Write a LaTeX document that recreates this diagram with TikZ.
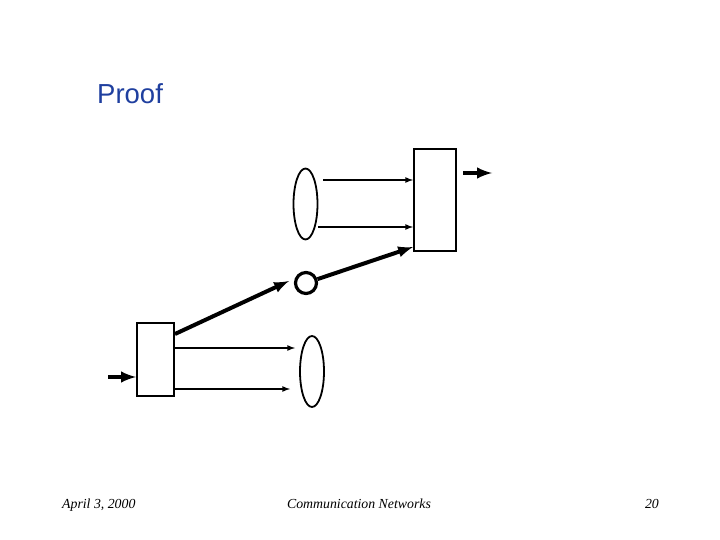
\documentclass[tikz,border=0pt]{standalone}
\usepackage{fontspec}
\setmainfont{Liberation Serif}
\setsansfont{Liberation Sans}
\usetikzlibrary{arrows,shapes.geometric}
\definecolor{titleblue}{RGB}{31,63,159}
\tikzset{
  >=latex,
  {title/.style} ={inner sep=0, anchor=base west, text=titleblue,
                  font=\sffamily\fontsize{27.5}{30}\selectfont},
  {footer/.style} ={inner sep=0, font=\itshape\fontsize{13.8}{16}\selectfont},
  {box/.style} ={draw, line width=2pt, rectangle, fill=white},
  {source/.style} ={draw, line width=1.8pt, ellipse,
                   minimum width=24pt, minimum height=71pt, inner sep=0},
  {relay/.style} ={draw, line width=3.2pt, circle, minimum size=21pt, inner sep=0},
  {thin arrow/.style} ={->, line width=1.6pt},
  {thick arrow/.style} ={->, line width=4pt},
}
\begin{document}
\begin{tikzpicture}[x=1pt,y=-1pt]
\useasboundingbox (0,0) rectangle (720,540);

\node[title] (proof) at (97,104) {Proof};

% the two boxes
\node[box, minimum width=42pt, minimum height=102pt] (rbox) at (435,200) {};
\node[box, minimum width=37pt, minimum height=73pt] (lbox) at (155.5,359.5) {};

% sources and the relay
\node[source] (uell) at (305.5,204) {};
\node[source] (lell) at (312,371.5) {};
\node[relay] (circ) at (306,283) {};

\coordinate (in) at (108,377);
\coordinate (out) at (492,173);
\coordinate (u1) at (323,180);
\coordinate (u2) at (318,227);
\coordinate (l1) at (295,348);
\coordinate (l2) at (290,389);
\coordinate (cin) at (289,281);

\draw[thin arrow] (u1) -- (u1 -| rbox.west);
\draw[thin arrow] (u2) -- (u2 -| rbox.west);
\draw[thin arrow] (lbox.east |- l1) -- (l1);
\draw[thin arrow] (lbox.east |- l2) -- (l2);

\draw[thick arrow] (in) -- (in -| lbox.west);
\draw[thick arrow] ([xshift=6pt]rbox.east |- out) -- (out);
\draw[thick arrow] ([yshift=-12pt]lbox.north east) -- (cin);
\draw[thick arrow] (circ) -- ([yshift=5pt]rbox.south west);

% footer
\node[footer, anchor=base west] (date) at (62,508) {April 3, 2000};
\node[footer, anchor=base] (course) at (359,508) {Communication Networks};
\node[footer, anchor=base east] (page) at (659,508) {20};
\end{tikzpicture}
\end{document}
